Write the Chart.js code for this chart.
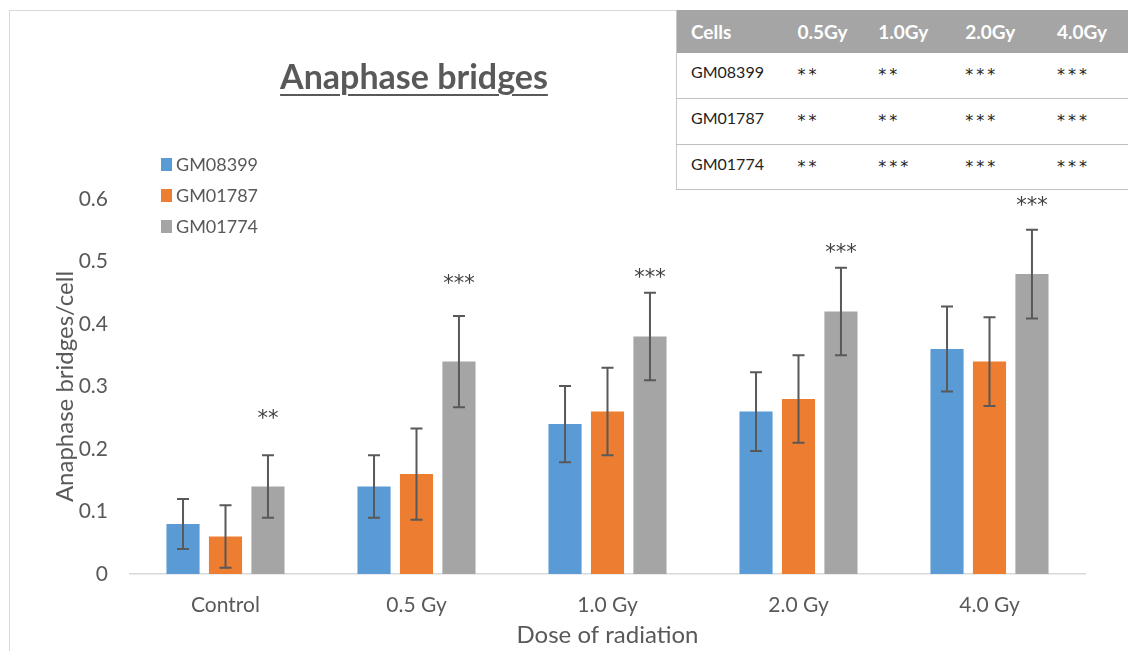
<!DOCTYPE html>
<html><head><meta charset="utf-8">
<script src="https://cdn.jsdelivr.net/npm/chart.js@4.4.0/dist/chart.umd.min.js"></script>
<style>
html,body{margin:0;padding:0;background:#fff;}
#wrap{position:relative;width:1128px;height:651px;overflow:hidden;background:#fff;}
#frame{position:absolute;left:9px;top:10px;width:1300px;height:800px;border:1px solid #d9d9d9;box-sizing:border-box;}
canvas{position:absolute;left:0;top:0;}
#title{position:absolute;left:0;width:828px;top:55px;line-height:42px;text-align:center;font-family:Lato,sans-serif;font-weight:bold;font-size:34px;color:#595959;text-decoration:underline;text-underline-offset:5px;text-decoration-thickness:2px;}
#tbl{position:absolute;left:676px;top:10px;border-collapse:collapse;font-family:Lato,sans-serif;background:#fff;border-left:1px solid #c8c8c8;}
#tbl th{background:#a5a5a5;color:#fff;font-size:19px;font-weight:bold;text-align:left;height:43px;padding:0 0 0 14px;box-sizing:border-box;}
#tbl td{font-size:16px;color:#222;text-align:left;vertical-align:top;padding:9px 0 0 14px;height:45.5px;box-sizing:border-box;border-bottom:1.5px solid #c0c0c0;}
#tbl td.s{font-family:'DejaVu Sans',sans-serif;font-size:16px;letter-spacing:3px;padding-top:12px;}
</style></head>
<body>
<div id="wrap">
<div id="frame"></div>
<canvas id="c" width="1128" height="651"></canvas>
<div id="title">Anaphase bridges</div>
<table id="tbl"></table>
</div>
<script>
const categories = ['Control', '0.5 Gy', '1.0 Gy', '2.0 Gy', '4.0 Gy'];
const seriesNames = ['GM08399', 'GM01787', 'GM01774'];
const seriesColors = ['#5b9bd5', '#ed7d31', '#a5a5a5'];
const gm08399 = [0.08, 0.14, 0.24, 0.26, 0.36];
const gm01787 = [0.06, 0.16, 0.26, 0.28, 0.34];
const gm01774 = [0.14, 0.34, 0.38, 0.42, 0.48];
const err08399 = [0.04, 0.05, 0.061, 0.063, 0.068];
const err01787 = [0.05, 0.073, 0.07, 0.07, 0.071];
const err01774 = [0.05, 0.073, 0.07, 0.07, 0.071];
const sigLabels = ['**', '***', '***', '***', '***'];
const sigY = [0.258, 0.474, 0.483, 0.523, 0.598];
const yTicks = [0, 0.1, 0.2, 0.3, 0.4, 0.5, 0.6];
const yTitle = 'Anaphase bridges/cell';
const xTitle = 'Dose of radiation';
const tableHeader = ['Cells', '0.5Gy', '1.0Gy', '2.0Gy', '4.0Gy'];
const tableRows = [
  ['GM08399', '**', '**', '***', '***'],
  ['GM01787', '**', '**', '***', '***'],
  ['GM01774', '**', '***', '***', '***']
];

// table
const colW = [107, 81, 87, 92, 85];
const tbl = document.getElementById('tbl');
let h = '<tr>' + tableHeader.map((t, i) => '<th style="width:' + (colW[i]) + 'px">' + t + '</th>').join('') + '</tr>';
tableRows.forEach(r => { h += '<tr>' + r.map((t, i) => '<td' + (i ? ' class="s"' : '') + '>' + t + '</td>').join('') + '</tr>'; });
tbl.innerHTML = h;

const values = [gm08399, gm01787, gm01774];
const errors = [err08399, err01787, err01774];
const FONT = 'Lato, sans-serif';
const TXT = '#595959';

const extras = {
  id: 'extras',
  afterDatasetsDraw(chart) {
    const ctx = chart.ctx, y = chart.scales.y;
    ctx.save();
    ctx.strokeStyle = '#595959';
    ctx.lineWidth = 2;
    chart.data.datasets.forEach((ds, i) => {
      const meta = chart.getDatasetMeta(i);
      meta.data.forEach((el, j) => {
        const v = ds.data[j], e = errors[i][j];
        const x = el.x, yt = y.getPixelForValue(v + e), yb = y.getPixelForValue(v - e);
        ctx.beginPath();
        ctx.moveTo(x, yt); ctx.lineTo(x, yb);
        ctx.moveTo(x - 6, yt); ctx.lineTo(x + 6, yt);
        ctx.moveTo(x - 6, yb); ctx.lineTo(x + 6, yb);
        ctx.stroke();
      });
    });
    // significance labels above last series
    const last = chart.getDatasetMeta(2);
    ctx.fillStyle = '#404040';
    ctx.font = '21px "DejaVu Sans", sans-serif';
    ctx.textAlign = 'center';
    ctx.textBaseline = 'alphabetic';
    last.data.forEach((el, j) => {
      ctx.fillText(sigLabels[j], el.x, y.getPixelForValue(sigY[j]) + 12);
    });
    // legend
    ctx.font = '18px ' + FONT;
    ctx.textAlign = 'left';
    ctx.textBaseline = 'middle';
    chart.data.datasets.forEach((ds, i) => {
      const ly = 164 + i * 31;
      ctx.fillStyle = ds.backgroundColor;
      ctx.fillRect(161, ly - 6, 11, 13);
      ctx.fillStyle = TXT;
      ctx.fillText(ds.label, 176, ly + 1);
    });
    ctx.restore();
  }
};

new Chart(document.getElementById('c'), {
  type: 'bar',
  data: {
    labels: categories,
    datasets: seriesNames.map((n, i) => ({
      label: n, data: values[i], backgroundColor: seriesColors[i],
      categoryPercentage: 0.667, barPercentage: 0.78, borderWidth: 0
    }))
  },
  options: {
    responsive: false, animation: false,
    layout: { padding: { top: 199, left: 0, right: 43, bottom: 0 } },
    plugins: { legend: { display: false }, tooltip: { enabled: false }, title: { display: false } },
    scales: {
      x: {
        grid: { display: false, drawTicks: false },
        border: { color: '#d9d9d9', width: 1.5 },
        ticks: { color: TXT, font: { family: FONT, size: 21 }, padding: 19 },
        title: { display: true, text: xTitle, color: TXT, font: { family: FONT, size: 24 }, padding: { top: 0, bottom: 1 } },
        afterFit(s) { s.height = 77; }
      },
      y: {
        min: 0, max: 0.6,
        grid: { display: false, drawTicks: false },
        border: { display: false },
        afterBuildTicks(s) { s.ticks = yTicks.map(v => ({ value: v })); },
        ticks: { color: TXT, font: { family: FONT, size: 21 }, padding: 22, callback: v => String(v) },
        title: { display: true, text: yTitle, color: TXT, font: { family: FONT, size: 24 }, padding: { top: 51, bottom: 0 } },
        afterFit(s) { s.width = 130; }
      }
    }
  },
  plugins: [extras]
});
</script>
</body></html>
